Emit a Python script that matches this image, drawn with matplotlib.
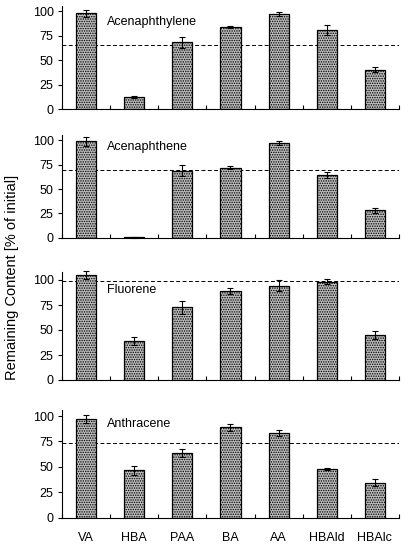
import numpy as np
import matplotlib
matplotlib.use("Agg")
import matplotlib.pyplot as plt

plt.rcParams['font.family'] = ['Liberation Sans', 'DejaVu Sans']
plt.rcParams['hatch.linewidth'] = 0.7
plt.rcParams['hatch.color'] = '#555555'

categories = ['VA', 'HBA', 'PAA', 'BA', 'AA', 'HBAld', 'HBAlc']
compounds = ['Acenaphthylene', 'Acenaphthene', 'Fluorene', 'Anthracene']

acenaphthylene = [97.5, 12, 68, 83.5, 96.8, 80.5, 40]
acenaphthylene_err = [4, 1, 5.5, 1, 2, 5, 2.5]
acenaphthene = [99, 0.5, 68.8, 72, 97.5, 64.4, 28]
acenaphthene_err = [4.5, 0.3, 5.5, 1.5, 2, 3, 3]
fluorene = [105.5, 39.3, 73, 88.7, 94.3, 98.3, 45]
fluorene_err = [4, 4, 6.5, 3, 5.5, 2.5, 4]
anthracene = [96.8, 46.8, 63.3, 88.9, 83, 47.8, 34.2]
anthracene_err = [4, 4.5, 4, 3.5, 3, 1, 3.5]

thresholds = [65.3, 69.5, 98.7, 73.1]

values = [acenaphthylene, acenaphthene, fluorene, anthracene]
errors = [acenaphthylene_err, acenaphthene_err, fluorene_err, anthracene_err]

# axes layout in pixels (zero-line y, px per unit, ymax)
W, H = 408, 544
left_px, right_px = 62, 399
panels = [(109, 0.98, 105), (237.7, 0.974, 105), (380, 1.0, 108), (517.7, 1.017, 106)]
label_y = [88.8, 92.8, 90, 91.8]

fig = plt.figure(figsize=(W / 100, H / 100), dpi=100)
x = np.arange(len(categories))

for i, (y0, scale, ymax) in enumerate(panels):
    h_px = scale * ymax
    ax = fig.add_axes([left_px / W, 1 - y0 / H, (right_px - left_px) / W, h_px / H])
    ax.bar(x, values[i], width=0.42, facecolor='#bdbdbd', edgecolor='black',
           linewidth=0.9, hatch='.......', zorder=2)
    ax.errorbar(x, values[i], yerr=errors[i], fmt='none', ecolor='black',
                elinewidth=0.8, capsize=2.3, capthick=0.8, zorder=3, clip_on=False)
    ax.axhline(thresholds[i], color='black', linestyle=(0, (4, 2.5)), linewidth=0.7, zorder=1)
    ax.text(0.134, label_y[i], compounds[i], transform=ax.get_yaxis_transform(),
            fontsize=9, va='center', ha='left')

    ax.set_xlim(-0.5, 6.5)
    ax.set_ylim(0, ymax)
    ax.set_yticks([0, 25, 50, 75, 100])
    ax.tick_params(axis='y', labelsize=9, length=3, width=0.8, direction='out', pad=3)
    ax.set_xticks(np.arange(-0.5, 7.0, 1.0), minor=True)
    ax.tick_params(axis='x', which='minor', direction='in', length=3, width=0.8)
    ax.set_xticks(x)
    ax.tick_params(axis='x', which='major', length=0, labelsize=9, pad=10)
    if i < 3:
        ax.set_xticklabels([])
    else:
        ax.set_xticklabels(categories)
    for s in ['top', 'right']:
        ax.spines[s].set_visible(False)
    ax.spines['left'].set_linewidth(0.8)
    ax.spines['bottom'].set_linewidth(0.8)

fig.text(0.03, 1 - 277 / H, 'Remaining Content [% of initial]', rotation=90,
         va='center', ha='center', fontsize=10.5)

fig.savefig('out.png', dpi=100)
